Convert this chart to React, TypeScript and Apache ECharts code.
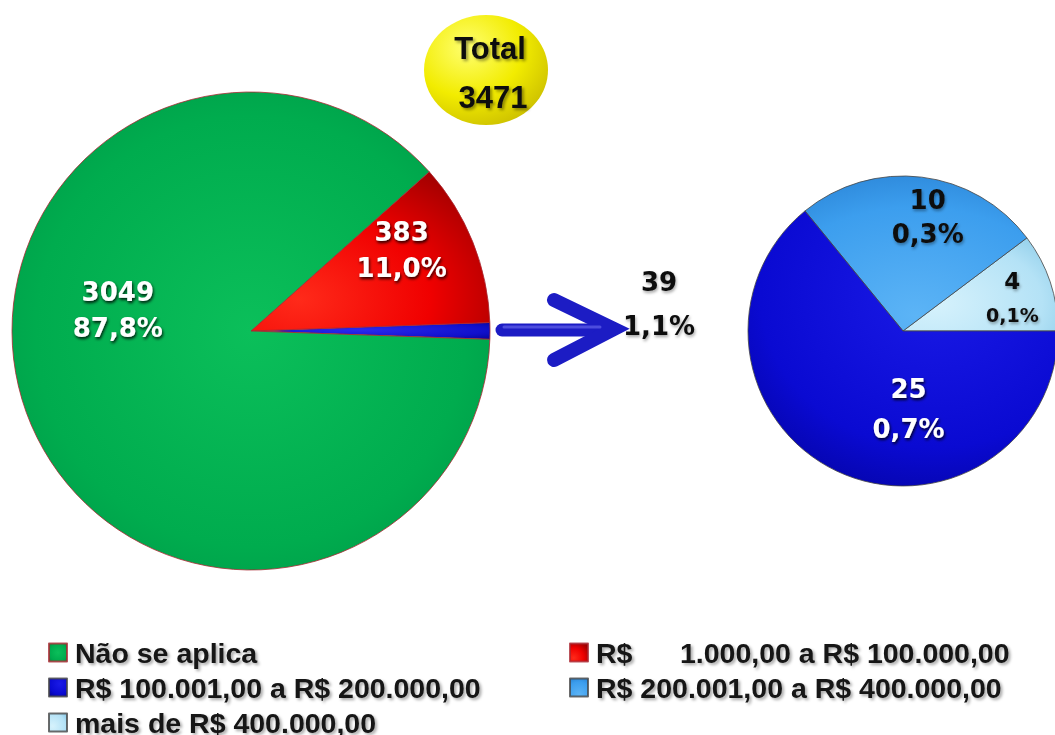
import React, { useEffect, useRef } from "react";
import * as echarts from "echarts";

// ---- data ----
const NB = "\u00a0";
const rangeLow = `R$${NB.repeat(6)}1.000,00 a R$ 100.000,00`;
const mainNames = ["R$ 100.001,00 ou mais", rangeLow, "Não se aplica"];
const mainValues = [39, 383, 3049];
const detailNames = ["mais de R$ 400.000,00", "R$ 200.001,00 a R$ 400.000,00", "R$ 100.001,00 a R$ 200.000,00"];
const detailValues = [4, 10, 25];
const legendLeft = ["Não se aplica", "R$ 100.001,00 a R$ 200.000,00", "mais de R$ 400.000,00"];
const legendRight = [rangeLow, "R$ 200.001,00 a R$ 400.000,00"];
const totalLabel = "Total";

const total = mainValues.reduce((a, b) => a + b, 0);
const pct = (v: number) => ((v / total) * 100).toFixed(1).replace(".", ",") + "%";

const rg = (stops: [number, string][], x = 0.45, y = 0.45, r = 0.75) =>
  new echarts.graphic.RadialGradient(
    x, y, r,
    stops.map(([offset, color]) => ({ offset, color }))
  );

const mainColors = [
  rg([[0, "#2a2aee"], [0.7, "#1010cc"], [1, "#06069a"]]),
  rg([[0, "#ff2a1a"], [0.55, "#f00000"], [1, "#9a0000"]], 0.2, 0.8, 1.0),
  rg([[0, "#0bbf5a"], [0.75, "#00ac4e"], [0.93, "#00a04a"], [1, "#0a9444"]], 0.5, 0.5, 0.6),
];
const detailColors = [
  rg([[0, "#d6f2fc"], [0.7, "#b4e2f6"], [1, "#8ccbe8"]], 0.2, 0.7, 1.0),
  rg([[0, "#5cb4f6"], [0.7, "#3c9eee"], [1, "#2a84d6"]], 0.5, 0.9, 1.0),
  rg([[0, "#1a1ae6"], [0.7, "#0a0ad2"], [1, "#0404a4"]], 0.6, 0.3, 0.8),
];

const labelFont = "DejaVu Sans";
const whiteShadow = { color: "#ffffff", textShadowColor: "rgba(0,0,0,0.85)", textShadowBlur: 3, textShadowOffsetX: 1, textShadowOffsetY: 2 };
const blackShadow = { color: "#111111", textShadowColor: "rgba(0,0,0,0.35)", textShadowBlur: 3, textShadowOffsetX: 1, textShadowOffsetY: 2 };

const mainLabelOffsets = [[0, 0], [37, -35], [-18, -63]];
const detailLabelOffsets = [[33, -8], [15, -34], [40, 5]];

export default function App() {
  const ref = useRef<HTMLDivElement>(null);
  useEffect(() => {
    if (!ref.current) return;
    const chart = echarts.init(ref.current, undefined, { renderer: "svg" });
    const legendCommon = {
      orient: "vertical",
      icon: "rect",
      itemWidth: 18,
      itemHeight: 18,
      itemGap: 6,
      padding: 0,
      height: 130,
      selectedMode: false,
      textStyle: {
        fontFamily: "Liberation Sans",
        fontWeight: "bold",
        fontSize: 28.5,
        lineHeight: 28,
        padding: [0, 0, 0, 3],
        color: "#141414",
        textShadowColor: "rgba(0,0,0,0.35)",
        textShadowBlur: 3,
        textShadowOffsetX: 2,
        textShadowOffsetY: 2,
      },
    };
    chart.setOption({
      animation: false,
      backgroundColor: "#ffffff",
      legend: [
        { ...legendCommon, left: 48, top: 638, data: legendLeft },
        { ...legendCommon, left: 569, top: 638, data: legendRight },
      ],
      series: [
        {
          type: "pie",
          silent: true,
          center: [251, 331],
          radius: 239,
          startAngle: -2,
          clockwise: false,
          itemStyle: { borderColor: "rgba(170,40,50,0.8)", borderWidth: 1 },
          label: {
            show: true,
            position: "inside",
            fontFamily: labelFont,
            fontWeight: "bold",
            fontSize: 26,
            lineHeight: 36,
            formatter: (p: any) => `${p.value}\n${pct(p.value)}`,
            ...whiteShadow,
          },
          labelLine: { show: false },
          labelLayout: (p: any) => ({ dx: mainLabelOffsets[p.dataIndex][0], dy: mainLabelOffsets[p.dataIndex][1] }),
          data: mainNames.map((name, i) => ({
            name,
            value: mainValues[i],
            itemStyle: { color: mainColors[i] },
            label: i === 0 ? { show: false } : undefined,
          })),
        },
        {
          type: "pie",
          silent: true,
          center: [903, 331],
          radius: 155,
          startAngle: 0,
          clockwise: false,
          itemStyle: { borderColor: "rgba(70,70,70,0.8)", borderWidth: 1 },
          label: {
            show: true,
            position: "inside",
            fontFamily: labelFont,
            fontWeight: "bold",
            fontSize: 26,
            lineHeight: 34,
            formatter: (p: any) => `${p.value}\n${pct(p.value)}`,
          },
          labelLine: { show: false },
          labelLayout: (p: any) => ({ dx: detailLabelOffsets[p.dataIndex][0], dy: detailLabelOffsets[p.dataIndex][1] }),
          data: detailNames.map((name, i) => ({
            name,
            value: detailValues[i],
            itemStyle: { color: detailColors[i] },
            label:
              i === 0
                ? {
                    ...blackShadow,
                    formatter: (p: any) => `{a|${p.value}}\n{b|${pct(p.value)}}`,
                    rich: {
                      a: { ...blackShadow, fontFamily: labelFont, fontWeight: "bold", fontSize: 23, lineHeight: 34 },
                      b: { ...blackShadow, fontFamily: labelFont, fontWeight: "bold", fontSize: 19, lineHeight: 34 },
                    },
                  }
                : i === 1
                ? { ...blackShadow }
                : { ...whiteShadow, lineHeight: 40 },
          })),
        },
      ],
      graphic: [
        {
          type: "ellipse",
          shape: { cx: 486, cy: 70, rx: 62, ry: 55 },
          style: {
            fill: rg([[0, "#ffff70"], [0.55, "#f2ec00"], [1, "#c9bc00"]], 0.35, 0.3, 0.8),
          },
          silent: true,
        },
        {
          type: "text",
          x: 490,
          y: 48,
          style: {
            text: totalLabel,
            fontFamily: "Liberation Sans",
            fontWeight: "bold",
            fontSize: 31,
            fill: "#111",
            align: "center",
            verticalAlign: "middle",
            textShadowColor: "rgba(0,0,0,0.4)",
            textShadowBlur: 3,
            textShadowOffsetX: 2,
            textShadowOffsetY: 2,
          },
        },
        {
          type: "text",
          x: 493,
          y: 97,
          style: {
            text: String(total),
            fontFamily: "Liberation Sans",
            fontWeight: "bold",
            fontSize: 31,
            fill: "#111",
            align: "center",
            verticalAlign: "middle",
            textShadowColor: "rgba(0,0,0,0.4)",
            textShadowBlur: 3,
            textShadowOffsetX: 2,
            textShadowOffsetY: 2,
          },
        },
        {
          type: "line",
          shape: { x1: 502, y1: 330, x2: 604, y2: 330 },
          style: { stroke: "#1c1cc4", lineWidth: 13, lineCap: "round" },
          silent: true,
        },
        {
          type: "polyline",
          shape: { points: [[554, 300], [614, 329], [554, 360]] },
          style: { stroke: "#1c1cc4", lineWidth: 14, lineCap: "round", lineJoin: "miter", fill: "none" },
          silent: true,
        },
        {
          type: "line",
          shape: { x1: 504, y1: 327, x2: 600, y2: 327 },
          style: { stroke: "rgba(110,110,240,0.6)", lineWidth: 3, lineCap: "round" },
          silent: true,
        },
        {
          type: "text",
          x: 659,
          y: 304,
          style: {
            text: `${mainValues[0]}\n${pct(mainValues[0])}`,
            fontFamily: labelFont,
            fontWeight: "bold",
            fontSize: 26,
            lineHeight: 44,
            fill: "#111",
            align: "center",
            verticalAlign: "middle",
            textShadowColor: "rgba(0,0,0,0.35)",
            textShadowBlur: 3,
            textShadowOffsetX: 1,
            textShadowOffsetY: 2,
          },
        },
      ],
    });
    return () => chart.dispose();
  }, []);
  return (
    <div
      ref={ref}
      style={{ position: "absolute", left: 0, top: 0, width: 1055, height: 735 }}
    />
  );
}
